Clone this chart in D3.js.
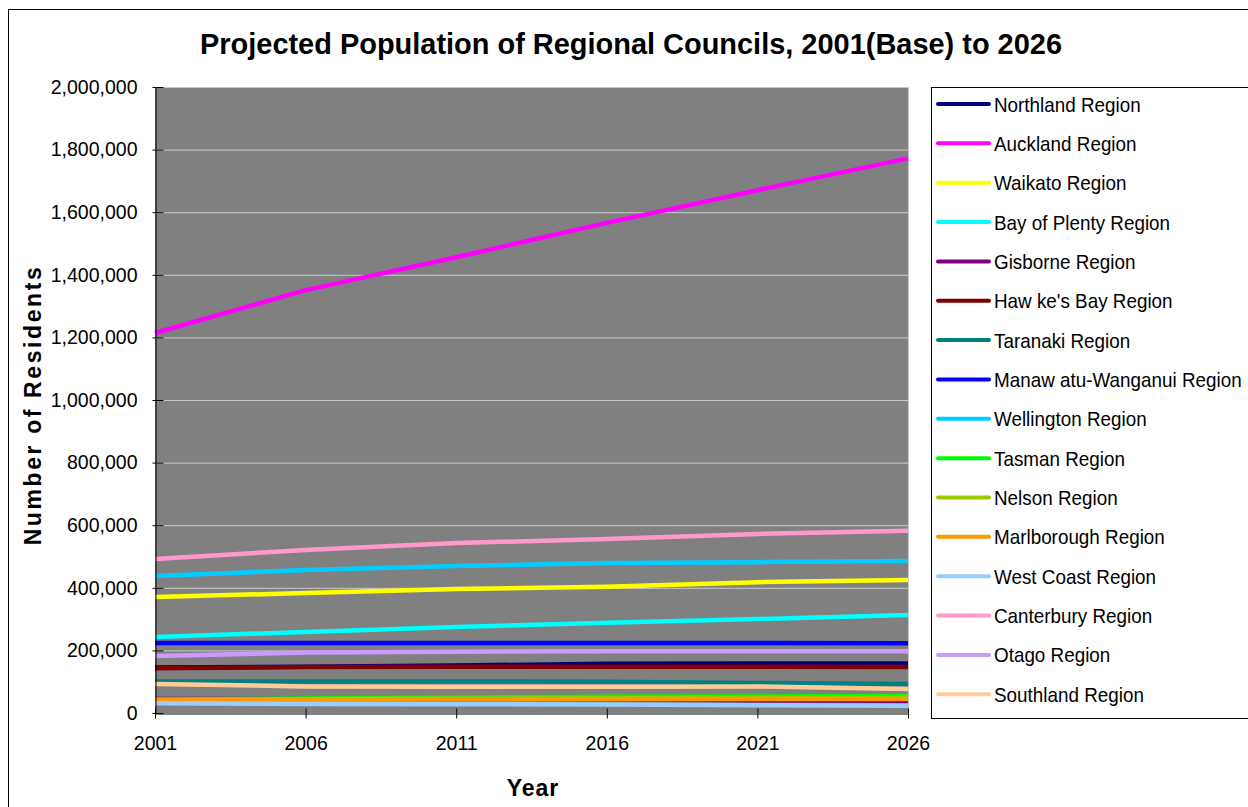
<!DOCTYPE html>
<html>
<head>
<meta charset="utf-8">
<script src="https://cdn.jsdelivr.net/npm/d3@7"></script>
<style>
  body { margin: 0; background: #fff; }
  text { font-family: "Liberation Sans", Arial, sans-serif; fill: #000; }
</style>
</head>
<body>
<svg id="chart" width="1248" height="807"></svg>
<script>
// data
const years = ['2001', '2006', '2011', '2016', '2021', '2026'];
const regions = ['Northland Region', 'Auckland Region', 'Waikato Region', 'Bay of Plenty Region',
    'Gisborne Region', "Haw ke's Bay Region", 'Taranaki Region', 'Manaw atu-Wanganui Region',
    'Wellington Region', 'Tasman Region', 'Nelson Region', 'Marlborough Region',
    'West Coast Region', 'Canterbury Region', 'Otago Region', 'Southland Region'];
const northland = [145000, 148000, 152000, 157000, 158000, 158000];
const auckland = [1214000, 1351000, 1456000, 1566000, 1670000, 1772000];
const waikato = [371000, 383000, 396000, 403000, 418000, 425000];
const bayOfPlenty = [243000, 259000, 275000, 288000, 300000, 313000];
const gisborne = [45000, 44500, 44000, 43000, 41000, 39000];
const hawkesBay = [143000, 147000, 148000, 148000, 148000, 147000];
const taranaki = [101000, 101000, 101000, 100000, 96000, 93000];
const manawatu = [224000, 224000, 224000, 224000, 224000, 223000];
const wellington = [438000, 457000, 470000, 479000, 482000, 486000];
const tasman = [42000, 46000, 49000, 52000, 53000, 54000];
const nelson = [42000, 44000, 46000, 47000, 48000, 49000];
const marlborough = [41000, 42000, 43000, 44000, 45000, 45000];
const westCoast = [31000, 29000, 28000, 27000, 25000, 23000];
const canterbury = [492000, 521000, 543000, 556000, 572000, 582000];
const otago = [182000, 193000, 196000, 197000, 197000, 197000];
const southland = [93000, 85000, 84000, 84000, 85000, 77000];
const series = [northland, auckland, waikato, bayOfPlenty, gisborne, hawkesBay, taranaki, manawatu,
    wellington, tasman, nelson, marlborough, westCoast, canterbury, otago, southland];
const colors = ['#000080', '#ff00ff', '#ffff00', '#00ffff', '#800080', '#800000', '#008080', '#0000ff',
    '#00ccff', '#00ff00', '#99cc00', '#ff9900', '#99ccff', '#ff99cc', '#cc99ff', '#ffcc99'];
const yTicks = [0, 200000, 400000, 600000, 800000, 1000000, 1200000, 1400000, 1600000, 1800000, 2000000];

const svg = d3.select('#chart');

// outer frame
svg.append('rect')
    .attr('x', 8.5).attr('y', 9.5)
    .attr('width', 1300).attr('height', 900)
    .attr('fill', '#fff').attr('stroke', '#000').attr('stroke-width', 1);

const plotLeft = 155, plotRight = 908, plotTop = 87, plotBottom = 713;

const x = d3.scalePoint().domain(years).range([plotLeft, plotRight]);
const y = d3.scaleLinear().domain([0, 2000000]).range([plotBottom, plotTop]);

// plot area
svg.append('rect')
    .attr('x', plotLeft).attr('y', plotTop)
    .attr('width', plotRight - plotLeft).attr('height', plotBottom - plotTop)
    .attr('fill', '#808080');

// gridlines
svg.append('g')
    .selectAll('line')
    .data(yTicks.slice(1))
    .enter()
    .append('line')
    .attr('x1', plotLeft).attr('x2', plotRight)
    .attr('y1', d => y(d) + 0.5).attr('y2', d => y(d) + 0.5)
    .attr('stroke', '#c8c8c8').attr('stroke-width', 1);

svg.append('line')
    .attr('x1', plotRight + 0.5).attr('x2', plotRight + 0.5)
    .attr('y1', plotTop).attr('y2', plotBottom)
    .attr('stroke', '#c8c8c8');

// lines
const line = d3.line()
    .x((d, i) => x(years[i]))
    .y(d => y(d));

svg.append('g')
    .selectAll('path')
    .data(series)
    .enter()
    .append('path')
    .attr('d', line)
    .attr('fill', 'none')
    .attr('stroke', (d, i) => colors[i])
    .attr('stroke-width', 4.5)
    .attr('stroke-linejoin', 'round');

// y axis
const yAxis = svg.append('g')
    .attr('transform', `translate(${plotLeft + 0.5},0)`)
    .call(d3.axisLeft(y).tickValues(yTicks).tickFormat(d3.format(',')).tickSizeInner(3).tickSizeOuter(0).tickPadding(15));
yAxis.selectAll('.tick line').clone().attr('x2', 8);
yAxis.selectAll('.tick text').attr('font-size', 19.5).attr('font-family', 'Liberation Sans, Arial, sans-serif');
yAxis.select('.domain').attr('stroke', '#000');

// x axis
const xAxis = svg.append('g')
    .attr('transform', `translate(0,${plotBottom + 0.5})`)
    .call(d3.axisBottom(x).tickSizeInner(5).tickSizeOuter(0).tickPadding(18));
xAxis.selectAll('.tick line').clone().attr('y2', -5);
xAxis.selectAll('.tick text').attr('font-size', 19.5).attr('font-family', 'Liberation Sans, Arial, sans-serif');

// titles
svg.append('text')
    .attr('x', 631).attr('y', 54)
    .attr('text-anchor', 'middle')
    .attr('font-size', 29).attr('font-weight', 'bold')
    .attr('textLength', 862).attr('lengthAdjust', 'spacingAndGlyphs')
    .text('Projected Population of Regional Councils, 2001(Base) to 2026');

svg.append('text')
    .attr('transform', 'translate(41,405) rotate(-90)')
    .attr('text-anchor', 'middle')
    .attr('font-size', 23).attr('font-weight', 'bold')
    .attr('letter-spacing', 2.6)
    .text('Number of Residents');

svg.append('text')
    .attr('x', 533).attr('y', 796)
    .attr('text-anchor', 'middle')
    .attr('font-size', 23).attr('font-weight', 'bold')
    .attr('letter-spacing', 1)
    .text('Year');

// legend
svg.append('rect')
    .attr('x', 931.5).attr('y', 87.5)
    .attr('width', 400).attr('height', 631)
    .attr('fill', '#fff').attr('stroke', '#000');

const legend = svg.append('g')
    .selectAll('g')
    .data(regions)
    .enter()
    .append('g')
    .attr('transform', (d, i) => `translate(938,${104 + i * 39.35})`);

legend.append('line')
    .attr('x1', 0).attr('x2', 51)
    .attr('stroke', (d, i) => colors[i])
    .attr('stroke-width', 4)
    .attr('stroke-linecap', 'round');

legend.append('text')
    .attr('transform', 'translate(56,7.5) scale(0.92,1)')
    .attr('font-size', 20.5)
    .text(d => d);
</script>
</body>
</html>
